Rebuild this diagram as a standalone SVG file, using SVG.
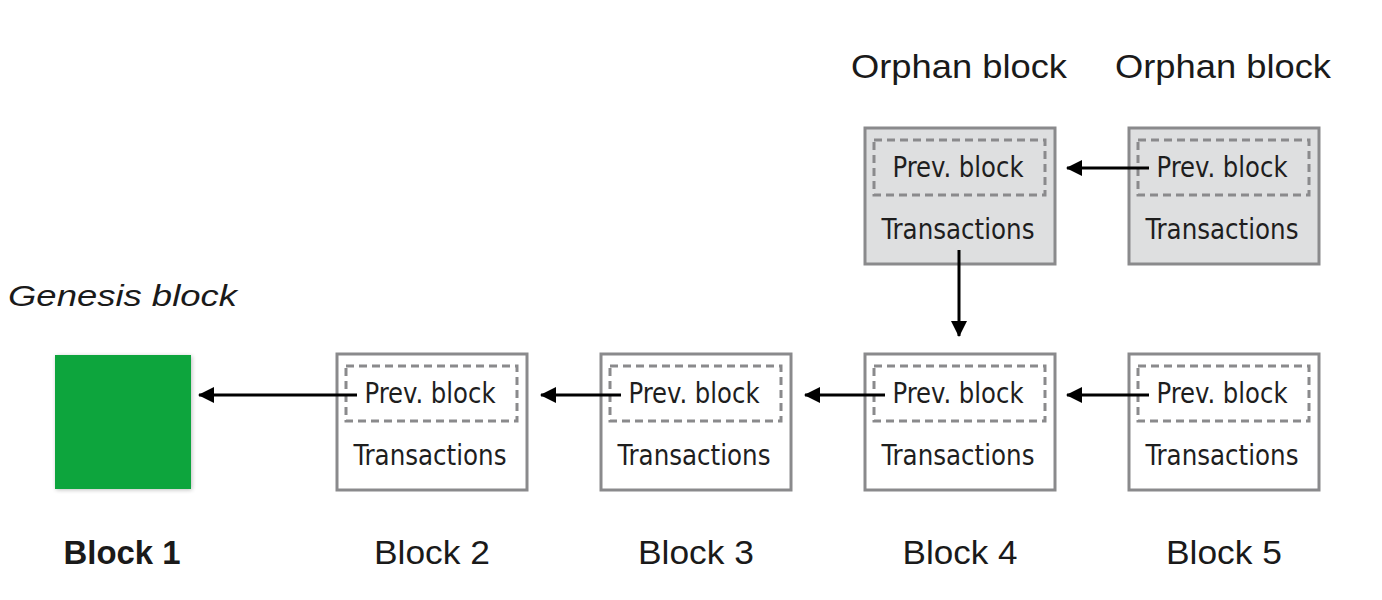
<svg xmlns="http://www.w3.org/2000/svg" width="1382" height="600" viewBox="0 0 1382 600">
<defs>
<marker id="ah" viewBox="0 0 16 16" markerWidth="16" markerHeight="16" refX="15" refY="8" orient="auto" markerUnits="userSpaceOnUse">
<path d="M0,0 L16,8 L0,16 Z" fill="#000"/>
</marker>
<filter id="sh" x="-10%" y="-10%" width="120%" height="120%">
<feGaussianBlur in="SourceAlpha" stdDeviation="2"/>
<feOffset dx="1" dy="1"/>
<feComponentTransfer><feFuncA type="linear" slope="0.25"/></feComponentTransfer>
<feMerge><feMergeNode/><feMergeNode in="SourceGraphic"/></feMerge>
</filter>
</defs>
<style>
.box{fill:#fff;stroke:#8a8a8c;stroke-width:3}
.orph{fill:#dedfe0;stroke:#8a8a8c;stroke-width:3}
.inner{fill:none;stroke:#8a8a8c;stroke-width:3;stroke-dasharray:8 5}
.bt{font-family:"DejaVu Sans Condensed","Liberation Sans Narrow",Roboto,sans-serif;font-size:28px;fill:#1e1e1e;text-anchor:middle}
.lbl{font-family:"Liberation Sans",Arial,sans-serif;font-size:34px;fill:#1a1a1a;text-anchor:middle}
.conn{stroke:#000;stroke-width:3;fill:none;marker-end:url(#ah)}
</style>
<rect width="1382" height="600" fill="#fff"/>

<g id="genesis-label">
<text x="8" y="306" font-family="Liberation Sans,Arial,sans-serif" font-size="30" font-style="italic" fill="#1a1a1a" textLength="229" lengthAdjust="spacingAndGlyphs">Genesis block</text>
</g>
<g id="orphan-labels">
<text class="lbl" x="959" y="78" font-size="30" textLength="216" lengthAdjust="spacingAndGlyphs">Orphan block</text>
<text class="lbl" x="1223" y="78" font-size="30" textLength="216" lengthAdjust="spacingAndGlyphs">Orphan block</text>
</g>

<g id="block1">
<rect x="55" y="355" width="136" height="134" fill="#0aa53d" filter="url(#sh)"/>
<text class="lbl" x="122" y="564" font-weight="bold" textLength="117" lengthAdjust="spacingAndGlyphs">Block 1</text>
</g>

<g id="block2">
<rect class="box" x="337" y="354" width="190" height="136"/>
<rect class="inner" x="346" y="366" width="171" height="55"/>
<text class="bt" x="430" y="403" textLength="131" lengthAdjust="spacingAndGlyphs">Prev. block</text>
<text class="bt" x="430" y="465" textLength="153" lengthAdjust="spacingAndGlyphs">Transactions</text>
<text class="lbl" x="432" y="564" textLength="116" lengthAdjust="spacingAndGlyphs">Block 2</text>
</g>

<g id="block3">
<rect class="box" x="601" y="354" width="190" height="136"/>
<rect class="inner" x="610" y="366" width="171" height="55"/>
<text class="bt" x="694" y="403" textLength="131" lengthAdjust="spacingAndGlyphs">Prev. block</text>
<text class="bt" x="694" y="465" textLength="153" lengthAdjust="spacingAndGlyphs">Transactions</text>
<text class="lbl" x="696" y="564" textLength="116" lengthAdjust="spacingAndGlyphs">Block 3</text>
</g>

<g id="block4">
<rect class="box" x="865" y="354" width="190" height="136"/>
<rect class="inner" x="874" y="366" width="171" height="55"/>
<text class="bt" x="958" y="403" textLength="131" lengthAdjust="spacingAndGlyphs">Prev. block</text>
<text class="bt" x="958" y="465" textLength="153" lengthAdjust="spacingAndGlyphs">Transactions</text>
<text class="lbl" x="960" y="564" textLength="115" lengthAdjust="spacingAndGlyphs">Block 4</text>
</g>

<g id="block5">
<rect class="box" x="1129" y="354" width="190" height="136"/>
<rect class="inner" x="1138" y="366" width="171" height="55"/>
<text class="bt" x="1222" y="403" textLength="131" lengthAdjust="spacingAndGlyphs">Prev. block</text>
<text class="bt" x="1222" y="465" textLength="153" lengthAdjust="spacingAndGlyphs">Transactions</text>
<text class="lbl" x="1224" y="564" textLength="116" lengthAdjust="spacingAndGlyphs">Block 5</text>
</g>

<g id="orphan4">
<rect class="orph" x="865" y="128" width="190" height="136"/>
<rect class="inner" x="874" y="140" width="171" height="55"/>
<text class="bt" x="958" y="177" textLength="131" lengthAdjust="spacingAndGlyphs">Prev. block</text>
<text class="bt" x="958" y="239" textLength="153" lengthAdjust="spacingAndGlyphs">Transactions</text>
</g>

<g id="orphan5">
<rect class="orph" x="1129" y="128" width="190" height="136"/>
<rect class="inner" x="1138" y="140" width="171" height="55"/>
<text class="bt" x="1222" y="177" textLength="131" lengthAdjust="spacingAndGlyphs">Prev. block</text>
<text class="bt" x="1222" y="239" textLength="153" lengthAdjust="spacingAndGlyphs">Transactions</text>
</g>

<g id="connectors">
<line class="conn" x1="357" y1="395" x2="199" y2="395"/>
<line class="conn" x1="621" y1="395" x2="541" y2="395"/>
<line class="conn" x1="885" y1="395" x2="805" y2="395"/>
<line class="conn" x1="1149" y1="395" x2="1067" y2="395"/>
<line class="conn" x1="1149" y1="168" x2="1067" y2="168"/>
<line class="conn" x1="959" y1="250" x2="959" y2="336"/>
</g>
</svg>
